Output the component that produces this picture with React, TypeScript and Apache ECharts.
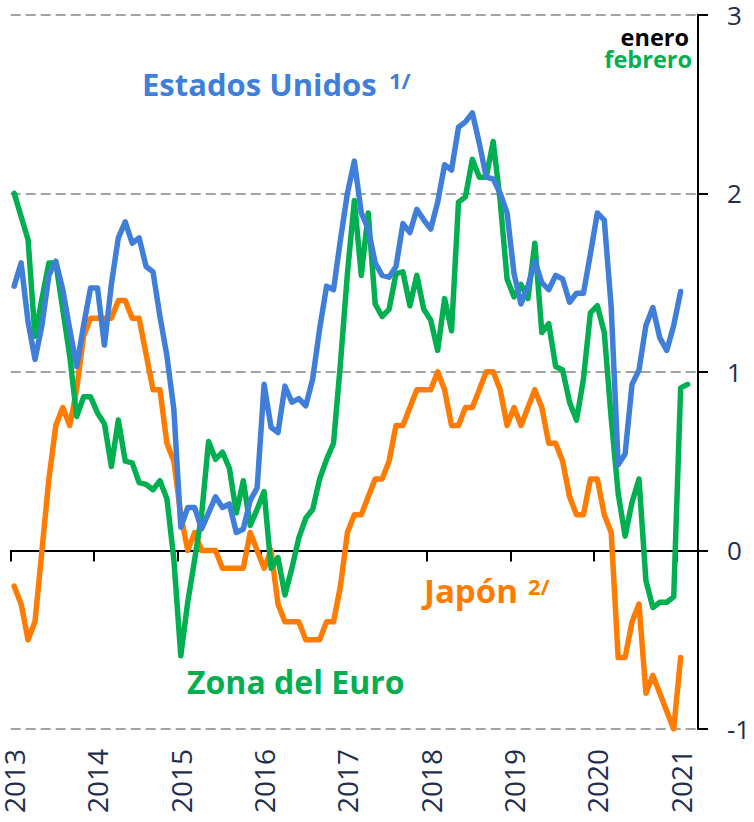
import React, { useEffect, useRef } from 'react';
import * as echarts from 'echarts';

// Monthly categories, Jan 2013 .. Mar 2021 (axis spans one extra month past last data point)
const startYear = 2013;
const monthCount = 99;
const months: string[] = Array.from({ length: monthCount }, (_, i) =>
  `${startYear + Math.floor(i / 12)}-${String((i % 12) + 1).padStart(2, '0')}`
);
const yearLabels = ['2013', '2014', '2015', '2016', '2017', '2018', '2019', '2020', '2021'];

// Estados Unidos (Jan 2013 .. Jan 2021)
const usValues = [
  1.48, 1.61, 1.28, 1.07, 1.26, 1.54, 1.62, 1.46, 1.24, 1.03, 1.26, 1.47,
  1.47, 1.15, 1.49, 1.75, 1.84, 1.72, 1.75, 1.59, 1.56, 1.31, 1.09, 0.79,
  0.13, 0.24, 0.24, 0.12, 0.21, 0.30, 0.24, 0.26, 0.10, 0.12, 0.28, 0.35,
  0.93, 0.69, 0.66, 0.92, 0.83, 0.85, 0.81, 0.96, 1.24, 1.48, 1.46, 1.74,
  2.0, 2.18, 1.89, 1.80, 1.61, 1.54, 1.53, 1.59, 1.83, 1.78, 1.91, 1.85,
  1.80, 1.95, 2.16, 2.13, 2.37, 2.40, 2.45, 2.28, 2.09, 2.08, 2.0, 1.89,
  1.55, 1.38, 1.48, 1.62, 1.50, 1.46, 1.54, 1.52, 1.39, 1.44, 1.44, 1.66,
  1.89, 1.85, 1.36, 0.48, 0.54, 0.93, 1.01, 1.26, 1.36, 1.19, 1.12, 1.26,
  1.45,
];

// Zona del Euro (Jan 2013 .. Feb 2021)
const euroValues = [
  2.0, 1.87, 1.74, 1.20, 1.41, 1.61, 1.61, 1.35, 1.09, 0.75, 0.86, 0.86,
  0.77, 0.71, 0.47, 0.73, 0.50, 0.49, 0.38, 0.37, 0.34, 0.39, 0.29, -0.05,
  -0.59, -0.29, -0.05, 0.20, 0.61, 0.51, 0.55, 0.46, 0.21, 0.39, 0.14, 0.23,
  0.33, -0.10, -0.04, -0.25, -0.10, 0.07, 0.18, 0.23, 0.40, 0.51, 0.60, 1.05,
  1.55, 1.96, 1.54, 1.89, 1.38, 1.31, 1.35, 1.55, 1.56, 1.37, 1.54, 1.35,
  1.29, 1.12, 1.41, 1.23, 1.95, 1.98, 2.19, 2.09, 2.09, 2.29, 1.96, 1.52,
  1.42, 1.49, 1.41, 1.72, 1.22, 1.27, 1.03, 1.01, 0.83, 0.73, 0.96, 1.33,
  1.37, 1.22, 0.74, 0.32, 0.08, 0.27, 0.40, -0.17, -0.32, -0.29, -0.29, -0.26,
  0.91, 0.93,
];

// Japón (Jan 2013 .. Jan 2021)
const japanValues = [
  -0.2, -0.3, -0.5, -0.4, 0.0, 0.4, 0.7, 0.8, 0.7, 0.9, 1.2, 1.3,
  1.3, 1.3, 1.3, 1.4, 1.4, 1.3, 1.3, 1.1, 0.9, 0.9, 0.6, 0.5,
  0.2, 0.0, 0.1, 0.0, 0.0, 0.0, -0.1, -0.1, -0.1, -0.1, 0.1, 0.0,
  -0.1, 0.0, -0.3, -0.4, -0.4, -0.4, -0.5, -0.5, -0.5, -0.4, -0.4, -0.2,
  0.1, 0.2, 0.2, 0.3, 0.4, 0.4, 0.5, 0.7, 0.7, 0.8, 0.9, 0.9,
  0.9, 1.0, 0.9, 0.7, 0.7, 0.8, 0.8, 0.9, 1.0, 1.0, 0.9, 0.7,
  0.8, 0.7, 0.8, 0.9, 0.8, 0.6, 0.6, 0.5, 0.3, 0.2, 0.2, 0.4,
  0.4, 0.2, 0.1, -0.6, -0.6, -0.4, -0.3, -0.8, -0.7, -0.8, -0.9, -1.0,
  -0.6,
];

const yMin = -1;
const yMax = 3;
const yInterval = 1;

const BLUE = '#3F7FDA';
const GREEN = '#00B050';
const ORANGE = '#FF7C00';
const NAVY = '#1F2E4D';
const FONT = '"Open Sans", "Noto Sans", sans-serif';

export default function App() {
  const ref = useRef<HTMLDivElement | null>(null);

  useEffect(() => {
    if (!ref.current) return;
    const chart = echarts.init(ref.current, undefined, { renderer: 'svg' });
    const isYearStart = (idx: number) => idx % 12 === 0;
    const lineSeries = (name: string, data: number[], color: string, z: number) => ({
      name,
      type: 'line',
      data,
      xAxisIndex: 0,
      yAxisIndex: 0,
      symbol: 'none',
      smooth: false,
      z,
      lineStyle: { color, width: 5.5, cap: 'round', join: 'round' },
    });

    chart.setOption({
      animation: false,
      backgroundColor: '#ffffff',
      grid: { left: 10.7, right: 56, top: 14.7, bottom: 93, containLabel: false },
      xAxis: [
        {
          type: 'category',
          data: months,
          boundaryGap: true,
          position: 'bottom',
          axisLine: { show: true, onZero: true, lineStyle: { color: '#000', width: 2 } },
          axisTick: { show: true, interval: isYearStart, length: 11, lineStyle: { color: '#000', width: 2 } },
          axisLabel: { show: false },
          splitLine: { show: false },
        },
        {
          type: 'category',
          data: months,
          boundaryGap: true,
          position: 'bottom',
          axisLine: { show: false, onZero: false },
          axisTick: { show: false },
          splitLine: { show: false },
          axisLabel: {
            show: true,
            interval: isYearStart,
            rotate: 90,
            margin: 20,
            color: NAVY,
            fontFamily: FONT,
            fontSize: 28,
            formatter: (v: string) => {
              const y = v.slice(0, 4);
              return yearLabels.includes(y) && v.endsWith('-01') ? y : '';
            },
          },
        },
      ],
      yAxis: {
        type: 'value',
        position: 'right',
        min: yMin,
        max: yMax,
        interval: yInterval,
        axisLine: { show: true, onZero: false, lineStyle: { color: '#000', width: 2 } },
        axisTick: { show: true, inside: false, length: 10, lineStyle: { color: '#000', width: 2 } },
        axisLabel: {
          show: true,
          margin: 29,
          align: 'left',
          color: NAVY,
          fontFamily: FONT,
          fontSize: 26,
        },
        splitLine: {
          show: true,
          lineStyle: { color: '#A3A3A3', width: 2, type: [10, 5] },
        },
      },
      series: [
        lineSeries('Japón', japanValues, ORANGE, 2),
        lineSeries('Zona del Euro', euroValues, GREEN, 3),
        lineSeries('Estados Unidos', usValues, BLUE, 4),
      ],
      graphic: [
        {
          type: 'text', x: 142, y: 84, z: 10,
          style: { text: 'Estados Unidos', font: `bold 31px ${FONT}`, fill: BLUE, textAlign: 'left', textVerticalAlign: 'middle' },
        },
        {
          type: 'text', x: 389, y: 80, z: 10,
          style: { text: '1/', font: `bold 22px ${FONT}`, fill: BLUE, textAlign: 'left', textVerticalAlign: 'middle' },
        },
        {
          type: 'text', x: 689, y: 37, z: 10,
          style: { text: 'enero', font: `bold 23.5px ${FONT}`, fill: '#000', textAlign: 'right', textVerticalAlign: 'middle' },
        },
        {
          type: 'text', x: 692, y: 59, z: 10,
          style: { text: 'febrero', font: `bold 23.5px ${FONT}`, fill: GREEN, textAlign: 'right', textVerticalAlign: 'middle' },
        },
        {
          type: 'text', x: 187, y: 681, z: 10,
          style: { text: 'Zona del Euro', font: `bold 32px ${FONT}`, fill: GREEN, textAlign: 'left', textVerticalAlign: 'middle' },
        },
        {
          type: 'text', x: 424, y: 590, z: 10,
          style: { text: 'Japón', font: `bold 33px ${FONT}`, fill: ORANGE, textAlign: 'left', textVerticalAlign: 'middle' },
        },
        {
          type: 'text', x: 528, y: 586, z: 10,
          style: { text: '2/', font: `bold 22px ${FONT}`, fill: ORANGE, textAlign: 'left', textVerticalAlign: 'middle' },
        },
      ],
    });

    return () => {
      chart.dispose();
    };
  }, []);

  return (
    <div
      ref={ref}
      style={{ position: 'fixed', left: 0, top: 0, width: 754, height: 822, background: '#fff' }}
    />
  );
}
